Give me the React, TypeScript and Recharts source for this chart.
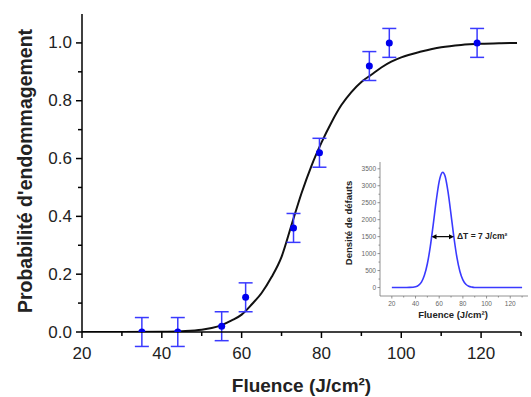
import React from 'react';
import { ComposedChart, LineChart, Line, Scatter, ErrorBar, XAxis, YAxis, ReferenceLine } from 'recharts';

// measured damage probability
const fluence = [35, 44, 55, 61, 73, 79.5, 92, 97, 119];
const probability = [0, 0, 0.02, 0.12, 0.36, 0.62, 0.92, 1.0, 1.0];
const probError = [0.05, 0.05, 0.05, 0.05, 0.05, 0.05, 0.05, 0.05, 0.05];

// fitted curve
const fitFluence = [20, 30, 40, 45, 50, 52.5, 55, 57.5, 60, 62.5, 65, 67.5, 70, 72.5, 75, 77.5, 80, 82.5, 85, 87.5, 90, 92.5, 95, 97.5, 100, 105, 110, 115, 120, 125, 129];
const fitProbability = [0, 0, 0.001, 0.003, 0.008, 0.014, 0.024, 0.04, 0.06, 0.095, 0.135, 0.19, 0.26, 0.37, 0.48, 0.575, 0.655, 0.725, 0.785, 0.83, 0.865, 0.89, 0.915, 0.935, 0.95, 0.97, 0.985, 0.993, 0.997, 0.999, 1.0];

// inset: defect density
const insetFluence = [20, 30, 35, 40, 42.5, 45, 47.5, 50, 52.5, 55, 57.5, 60, 62.5, 63, 65, 67.5, 70, 72.5, 75, 77.5, 80, 82.5, 85, 87.5, 90, 100, 110, 120, 130];
const insetDensity = [0, 0, 5, 25, 65, 160, 360, 700, 1210, 1870, 2560, 3130, 3390, 3400, 3280, 2810, 2150, 1460, 880, 470, 225, 95, 37, 13, 0, 0, 0, 0, 0];

const mainXTicks = [20, 30, 40, 50, 60, 70, 80, 90, 100, 110, 120, 130];
const mainYTicks = [0, 0.1, 0.2, 0.3, 0.4, 0.5, 0.6, 0.7, 0.8, 0.9, 1.0];
const insetXTicks = [20, 30, 40, 50, 60, 70, 80, 90, 100, 110, 120, 130];
const insetYTicks = [0, 250, 500, 750, 1000, 1250, 1500, 1750, 2000, 2250, 2500, 2750, 3000, 3250, 3500];

const FONT = '"Liberation Sans", Arial, sans-serif';

const points = fluence.map((x, i) => ({ x, y: probability[i], err: probError[i] }));
const fitData = fitFluence.map((x, i) => ({ x, y: fitProbability[i] }));
const insetData = insetFluence.map((x, i) => ({ x, y: insetDensity[i] }));

const MainXTick = (props: any) => {
  const { x, y, payload } = props;
  const major = payload.value % 20 === 0;
  return (
    <g>
      <line x1={x} y1={y} x2={x} y2={y + (major ? 6 : 4)} stroke="#000" strokeWidth={1.5} />
      {major && (
        <text x={x} y={y + 21} textAnchor="middle" dominantBaseline="central" fontFamily={FONT} fontSize={17} fill="#222">
          {payload.value}
        </text>
      )}
    </g>
  );
};

const MainYTick = (props: any) => {
  const { x, y, payload } = props;
  const major = Math.round(payload.value * 10) % 2 === 0;
  return (
    <g>
      <line x1={x} y1={y} x2={x - (major ? 6 : 4)} y2={y} stroke="#000" strokeWidth={1.5} />
      {major && (
        <text x={x - 10} y={y} textAnchor="end" dominantBaseline="central" fontFamily={FONT} fontSize={17} fill="#222">
          {payload.value.toFixed(1)}
        </text>
      )}
    </g>
  );
};

const InsetXTick = (props: any) => {
  const { x, y, payload } = props;
  const major = payload.value % 20 === 0;
  return (
    <g>
      <line x1={x} y1={y} x2={x} y2={y + (major ? 2.5 : 1.5)} stroke="#777" strokeWidth={0.8} />
      {major && (
        <text x={x} y={y + 7.5} textAnchor="middle" dominantBaseline="central" fontFamily={FONT} fontSize={6.5} fill="#666">
          {payload.value}
        </text>
      )}
    </g>
  );
};

const InsetYTick = (props: any) => {
  const { x, y, payload } = props;
  const major = payload.value % 500 === 0;
  return (
    <g>
      <line x1={x} y1={y} x2={x - (major ? 2.5 : 1.5)} y2={y} stroke="#777" strokeWidth={0.8} />
      {major && (
        <text x={x - 4} y={y} textAnchor="end" dominantBaseline="central" fontFamily={FONT} fontSize={6.5} fill="#666">
          {payload.value}
        </text>
      )}
    </g>
  );
};

const WidthArrow = (props: any) => {
  const { x1, y1, x2 } = props;
  const y = y1;
  return (
    <g>
      <line x1={x1 + 3} y1={y} x2={x2 - 3} y2={y} stroke="#000" strokeWidth={1.2} />
      <polygon points={`${x1},${y} ${x1 + 5},${y - 2.5} ${x1 + 5},${y + 2.5}`} fill="#000" />
      <polygon points={`${x2},${y} ${x2 - 5},${y - 2.5} ${x2 - 5},${y + 2.5}`} fill="#000" />
      <text x={x2 + 3} y={y - 1} dominantBaseline="central" fontFamily={FONT} fontSize={8.5} fontWeight="bold" fill="#222">
        ΔT = 7 J/cm²
      </text>
    </g>
  );
};

const App: React.FC = () => {
  return (
    <div style={{ position: 'absolute', left: 0, top: 0, width: 531, height: 397, background: '#fff' }}>
      <div style={{ position: 'absolute', left: 0, top: 0 }}>
        <ComposedChart width={531} height={397} margin={{ top: 14, right: 10, left: 0, bottom: 0 }}>
          <XAxis
            type="number"
            dataKey="x"
            domain={[20, 130]}
            ticks={mainXTicks}
            allowDataOverflow
            height={65}
            tickSize={0}
            tickMargin={0}
            tickLine={false}
            axisLine={{ stroke: '#000', strokeWidth: 1.5 }}
            tick={<MainXTick />}
            interval={0}
            label={{
              content: (p: any) => (
                <text
                  x={p.viewBox.x + p.viewBox.width / 2}
                  y={p.viewBox.y + 53}
                  textAnchor="middle"
                  dominantBaseline="central"
                  fontFamily={FONT}
                  fontSize={19}
                  fontWeight="bold"
                  fill="#222"
                >
                  Fluence (J/cm²)
                </text>
              ),
            }}
          />
          <YAxis
            type="number"
            domain={[0, 1.1]}
            ticks={mainYTicks}
            allowDataOverflow
            width={82}
            tickSize={0}
            tickMargin={0}
            tickLine={false}
            axisLine={{ stroke: '#000', strokeWidth: 1.5 }}
            tick={<MainYTick />}
            interval={0}
            label={{
              content: (p: any) => {
                const cx = p.viewBox.x + 25;
                const cy = p.viewBox.y + p.viewBox.height / 2 - 2;
                return (
                  <text
                    x={cx}
                    y={cy}
                    transform={`rotate(-90 ${cx} ${cy})`}
                    textAnchor="middle"
                    dominantBaseline="central"
                    fontFamily={FONT}
                    fontSize={19.5}
                    fontWeight="bold"
                    fill="#222"
                  >
                    Probabilité d'endommagement
                  </text>
                );
              },
            }}
          />
          <Line data={fitData} dataKey="y" type="monotone" stroke="#111" strokeWidth={2} dot={false} isAnimationActive={false} />
          <Scatter
            data={points}
            dataKey="y"
            isAnimationActive={false}
            shape={(p: any) => <circle cx={p.cx} cy={p.cy} r={3.5} fill="#0000ee" />}
          >
            <ErrorBar dataKey="err" direction="y" width={7} stroke="#3a3aff" strokeWidth={1.5} isAnimationActive={false} />
          </Scatter>
        </ComposedChart>
      </div>

      <div style={{ position: 'absolute', left: 340, top: 150 }}>
        <LineChart width={191} height={175} data={insetData} margin={{ top: 12, right: 3, left: 0, bottom: 0 }}>
          <XAxis
            type="number"
            dataKey="x"
            domain={[10, 135]}
            ticks={insetXTicks}
            allowDataOverflow
            height={29}
            tickSize={0}
            tickMargin={0}
            tickLine={false}
            axisLine={{ stroke: '#777', strokeWidth: 0.8 }}
            tick={<InsetXTick />}
            interval={0}
            label={{
              content: (p: any) => (
                <text
                  x={p.viewBox.x + p.viewBox.width / 2 - 1}
                  y={p.viewBox.y + 18}
                  textAnchor="middle"
                  dominantBaseline="central"
                  fontFamily={FONT}
                  fontSize={9.5}
                  fontWeight="bold"
                  fill="#222"
                >
                  Fluence (J/cm²)
                </text>
              ),
            }}
          />
          <YAxis
            type="number"
            domain={[-250, 3700]}
            ticks={insetYTicks}
            allowDataOverflow
            width={40}
            tickSize={0}
            tickMargin={0}
            tickLine={false}
            axisLine={{ stroke: '#777', strokeWidth: 0.8 }}
            tick={<InsetYTick />}
            interval={0}
            label={{
              content: (p: any) => {
                const cx = p.viewBox.x + 8;
                const cy = p.viewBox.y + p.viewBox.height / 2 - 6;
                return (
                  <text
                    x={cx}
                    y={cy}
                    transform={`rotate(-90 ${cx} ${cy})`}
                    textAnchor="middle"
                    dominantBaseline="central"
                    fontFamily={FONT}
                    fontSize={9.5}
                    fontWeight="bold"
                    fill="#222"
                  >
                    Densité de défauts
                  </text>
                );
              },
            }}
          />
          <Line dataKey="y" type="monotone" stroke="#3a3aff" strokeWidth={1.6} dot={false} isAnimationActive={false} />
          <ReferenceLine
            segment={[{ x: 53.5, y: 1500 }, { x: 72.5, y: 1500 }]}
            shape={<WidthArrow />}
          />
        </LineChart>
      </div>
    </div>
  );
};

export default App;
